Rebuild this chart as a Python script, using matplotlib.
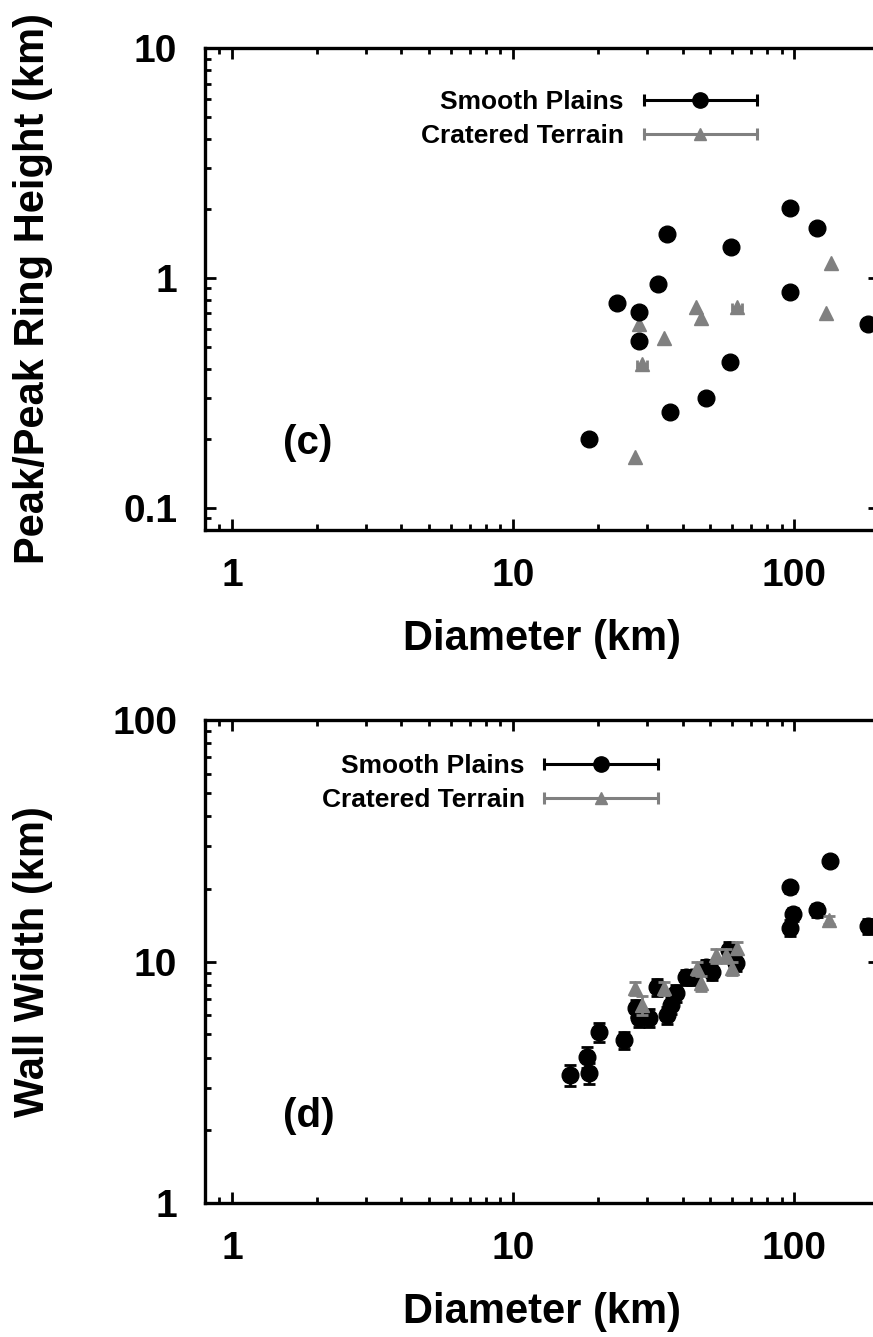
import numpy as np
import matplotlib
matplotlib.use("Agg")
import matplotlib.pyplot as plt
from matplotlib.lines import Line2D
from matplotlib.legend_handler import HandlerLine2D, HandlerTuple
from matplotlib.ticker import LogLocator, NullFormatter, FixedLocator, FixedFormatter

plt.rcParams['font.family'] = ['Liberation Sans', 'DejaVu Sans']
plt.rcParams['font.weight'] = 'bold'

# panel (c): peak / peak ring height
c_smooth_d = [35.3, 96.8, 120.7, 59.7, 32.8, 23.4, 27.9, 27.9, 96.8, 183, 59.2, 48.6, 36.2, 18.6]
c_smooth_h = [1.55, 2.01, 1.65, 1.36, 0.94, 0.78, 0.71, 0.53, 0.87, 0.63, 0.43, 0.30, 0.26, 0.20]
c_crat_d = [135.5, 44.8, 46.7, 62.7, 130, 27.9, 34.5, 28.8, 27.0]
c_crat_h = [1.16, 0.75, 0.67, 0.75, 0.70, 0.63, 0.55, 0.42, 0.167]
c_crat_derr = [0, 0, 0, 2.5, 0, 0, 0, 1.2, 0]

# panel (d): wall width
d_smooth_d = [15.96, 18.6, 18.3, 20.1, 24.8, 27.4, 28.1, 30.5, 32.5, 35.3, 36.5, 38.0,
              41.3, 43.4, 48.6, 51.1, 58.7, 62.2, 96.8, 99.1, 96.8, 134, 120.7, 183]
d_smooth_w = [3.39, 3.45, 4.03, 5.11, 4.73, 6.41, 5.83, 5.83, 7.83, 6.0, 6.6, 7.41,
              8.63, 8.63, 9.48, 9.05, 11.2, 9.86, 20.3, 15.7, 13.8, 26.1, 16.3, 14.0]
d_smooth_werr = [0.35, 0.35, 0.4, 0.45, 0.4, 0.5, 0.5, 0.5, 0.6, 0.5, 0.55, 0.6,
                 0.6, 0.6, 0.7, 0.7, 0.8, 0.7, 1.0, 1.0, 1.0, 1.2, 1.0, 1.0]
d_crat_d = [27.0, 28.8, 34.5, 45.2, 46.7, 52.8, 57.3, 62.7, 60.1, 133]
d_crat_w = [7.76, 6.6, 7.76, 9.4, 8.15, 10.6, 10.6, 11.4, 9.4, 14.9]
d_crat_werr = [0.5, 0.6, 0.5, 0.6, 0.6, 0.7, 0.7, 0.7, 0.6, 0.6]

GRAY = '#808080'
W, H = 873, 1337
fig = plt.figure(figsize=(W / 100, H / 100), dpi=100)

def px_axes(x0, y0, x1, y1):
    return fig.add_axes([x0 / W, 1 - y1 / H, (x1 - x0) / W, (y1 - y0) / H])

ax_c = px_axes(205, 48, 879, 530)
ax_d = px_axes(205, 720, 879, 1203)


def style(ax, ylim, yticks, ylabels, ylabel, tag):
    ax.set_xscale('log')
    ax.set_yscale('log')
    ax.set_xlim(0.8, 200)
    ax.set_ylim(*ylim)
    ax.xaxis.set_major_locator(FixedLocator([1, 10, 100]))
    ax.xaxis.set_major_formatter(FixedFormatter(['1', '10', '100']))
    ax.yaxis.set_major_locator(FixedLocator(yticks))
    ax.yaxis.set_major_formatter(FixedFormatter(ylabels))
    for a in (ax.xaxis, ax.yaxis):
        a.set_minor_locator(LogLocator(base=10, subs=np.arange(2, 10)))
        a.set_minor_formatter(NullFormatter())
    ax.tick_params(which='both', direction='in', top=True, right=True, width=2)
    ax.tick_params(which='major', length=8, labelsize=28, pad=20)
    ax.tick_params(which='minor', length=4)
    for s in ax.spines.values():
        s.set_linewidth(2.4)
    ax.set_xlabel('Diameter (km)', fontsize=30, fontweight='bold', labelpad=18)
    ax.set_ylabel(ylabel, fontsize=30, fontweight='bold')
    ax.yaxis.set_label_coords(-0.225, 0.5)
    ax.text(0.115, 0.18, tag, transform=ax.transAxes,
            fontsize=29, fontweight='bold', va='center')


def add_legend(ax, anchor):
    cap_k = Line2D([], [], color='k', lw=2.2, marker='|', ms=9, mew=2.2)
    dot_k = Line2D([], [], color='k', ls='none', marker='o', ms=11)
    cap_g = Line2D([], [], color=GRAY, lw=2.2, marker='|', ms=9, mew=2.2)
    tri_g = Line2D([], [], color=GRAY, ls='none', marker='^', ms=9)
    hmap = {tuple: HandlerTuple(ndivide=1),
            cap_k: HandlerLine2D(numpoints=2, marker_pad=0),
            cap_g: HandlerLine2D(numpoints=2, marker_pad=0)}
    ax.legend([(cap_k, dot_k), (cap_g, tri_g)], ['Smooth Plains', 'Cratered Terrain'],
              handler_map=hmap, markerfirst=False, frameon=False, loc='upper right',
              bbox_to_anchor=anchor, borderaxespad=0, borderpad=0,
              handlelength=4.3, handletextpad=0.75, labelspacing=0.38,
              prop={'size': 19, 'weight': 'bold'})


# panel (c)
ax_c.errorbar(c_crat_d, c_crat_h, xerr=c_crat_derr, fmt='^', color=GRAY, ms=10,
              elinewidth=2, capsize=3, capthick=2, zorder=2)
ax_c.errorbar(c_smooth_d, c_smooth_h, fmt='o', color='k', ms=12, zorder=3)
style(ax_c, (0.08, 10), [0.1, 1, 10], ['0.1', '1', '10'],
      'Peak/Peak Ring Height (km)', '(c)')
add_legend(ax_c, (0.819, 0.913))

# panel (d)
ax_d.errorbar(d_smooth_d, d_smooth_w, yerr=d_smooth_werr, fmt='o', color='k', ms=12,
              elinewidth=2, capsize=4, capthick=2, zorder=2)
ax_d.errorbar(d_crat_d, d_crat_w, yerr=d_crat_werr, fmt='^', color=GRAY, ms=10,
              elinewidth=2, capsize=4, capthick=2, zorder=3)
style(ax_d, (1, 100), [1, 10, 100], ['1', '10', '100'], 'Wall Width (km)', '(d)')
add_legend(ax_d, (0.672, 0.93))

fig.savefig('out.png', dpi=100)
